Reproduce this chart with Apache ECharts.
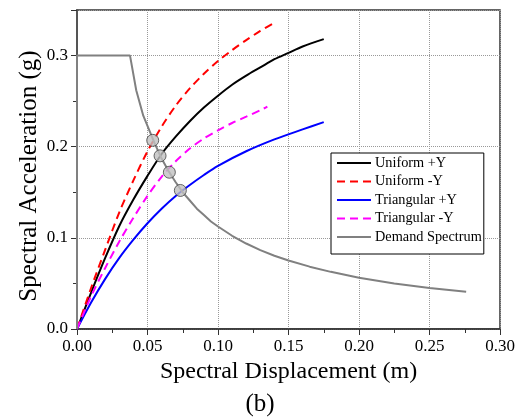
<!DOCTYPE html>
<html>
<head>
<meta charset="utf-8">
<script src="https://cdn.jsdelivr.net/npm/echarts@6/dist/echarts.min.js"></script>
<style>
  html, body { margin: 0; padding: 0; background: #fff; }
  #chart { width: 520px; height: 418px; }
</style>
</head>
<body>
<div id="chart"></div>
<script>
// capacity curves [Sd (m), Sa (g)]
const uniformPos = [[0,0],[0.01,0.040],[0.02,0.078],[0.03,0.113],[0.04,0.142],[0.05,0.168],[0.06,0.192],
  [0.07,0.211],[0.08,0.228],[0.09,0.243],[0.10,0.256],[0.11,0.268],[0.12,0.278],[0.13,0.287],
  [0.14,0.296],[0.15,0.303],[0.16,0.310],[0.175,0.318]];
const uniformNeg = [[0,0],[0.01,0.045],[0.02,0.087],[0.03,0.128],[0.04,0.163],[0.05,0.195],[0.06,0.222],
  [0.07,0.245],[0.08,0.264],[0.09,0.280],[0.10,0.294],[0.11,0.306],[0.12,0.317],[0.13,0.327],[0.14,0.336]];
const triangPos = [[0,0],[0.01,0.029],[0.02,0.055],[0.03,0.078],[0.04,0.098],[0.05,0.116],[0.06,0.132],
  [0.07,0.146],[0.08,0.158],[0.09,0.169],[0.10,0.179],[0.12,0.195],[0.14,0.208],[0.16,0.219],[0.175,0.227]];
const triangNeg = [[0,0],[0.01,0.036],[0.02,0.067],[0.03,0.096],[0.04,0.122],[0.05,0.146],[0.06,0.167],
  [0.07,0.184],[0.08,0.198],[0.09,0.209],[0.10,0.218],[0.11,0.226],[0.12,0.233],[0.13,0.240],[0.135,0.244]];
const demand = [[0,0],[0,0.3],[0.0376,0.3],[0.042,0.262],[0.047,0.234],[0.051,0.219],[0.055,0.204],
  [0.06,0.187],[0.065,0.173],[0.07,0.161],[0.075,0.150],[0.08,0.141],[0.085,0.132],[0.09,0.125],
  [0.095,0.118],[0.10,0.1125],[0.11,0.1023],[0.12,0.0938],[0.13,0.0866],[0.14,0.0804],[0.15,0.0752],
  [0.165,0.0684],[0.18,0.0627],[0.20,0.0563],[0.225,0.0500],[0.25,0.0450],[0.276,0.0408]];
// performance points
const perfPoints = [[0.0537,0.207],[0.0589,0.190],[0.0655,0.172],[0.0733,0.152]];

const names = ['Uniform +Y', 'Uniform -Y', 'Triangular +Y', 'Triangular -Y', 'Demand Spectrum'];
const FONT = '"Liberation Serif", "Times New Roman", serif';

const chart = echarts.init(document.getElementById('chart'));

function curve(name, data, color, dashed) {
  return {
    name: name, type: 'line', data: data, symbol: 'none', smooth: 0.3,
    lineStyle: { color: color, width: 2, type: dashed ? [8, 5] : 'solid' },
    itemStyle: { color: color }
  };
}

chart.setOption({
  animation: false,
  title: {
    text: '(b)', left: 'center', top: 387,
    textStyle: { fontFamily: FONT, fontSize: 25, fontWeight: 'normal', color: '#000' }
  },
  graphic: [{
    type: 'text', x: 29, y: 176, rotation: Math.PI / 2,
    style: { text: 'Spectral Acceleration (g)', fontFamily: FONT, fontSize: 25, fill: '#000',
      align: 'center', verticalAlign: 'middle' }
  }],
  grid: { left: 77, right: 20, top: 10, bottom: 89, show: true, borderColor: '#333', borderWidth: 1.5 },
  legend: {
    data: names,
    orient: 'vertical',
    left: 331, top: 153,
    padding: [3, 2, 10, 5],
    itemWidth: 34, itemHeight: 14, itemGap: 4.5,
    itemStyle: { opacity: 0 },
    backgroundColor: '#fff',
    borderColor: '#000', borderWidth: 1, borderRadius: 0,
    textStyle: { fontFamily: FONT, fontSize: 14.3, color: '#000', padding: [0, 0, 0, -1] }
  },
  xAxis: {
    type: 'value', min: 0, max: 0.3, interval: 0.05,
    name: 'Spectral Displacement (m)', nameLocation: 'middle', nameGap: 16,
    nameTextStyle: { fontFamily: FONT, fontSize: 24, color: '#000', verticalAlign: 'top' },
    axisLine: { lineStyle: { color: '#333', width: 1.5 } },
    axisTick: { show: true, length: 6, lineStyle: { color: '#333' } },
    minorTick: { show: true, splitNumber: 2, length: 4, lineStyle: { color: '#333' } },
    axisLabel: { fontFamily: FONT, fontSize: 17, color: '#000', margin: 9,
      formatter: v => v.toFixed(2) },
    splitLine: { show: true, lineStyle: { color: '#999', type: 'dotted', width: 1 } }
  },
  yAxis: {
    type: 'value', min: 0, max: 0.35, interval: 0.1,
    axisLine: { show: true, lineStyle: { color: '#555', width: 2 } },
    axisTick: { show: true, length: 6, lineStyle: { color: '#333' } },
    minorTick: { show: true, splitNumber: 2, length: 4, lineStyle: { color: '#333' } },
    axisLabel: { fontFamily: FONT, fontSize: 17, color: '#000', margin: 9, showMaxLabel: false,
      formatter: v => v.toFixed(1) },
    splitLine: { show: true, lineStyle: { color: '#999', type: 'dotted', width: 1 } }
  },
  series: [
    curve(names[0], uniformPos, '#000000', false),
    curve(names[1], uniformNeg, '#ff0000', true),
    curve(names[2], triangPos, '#0000ff', false),
    curve(names[3], triangNeg, '#ff00ff', true),
    {
      name: names[4], type: 'line', data: demand, symbol: 'none',
      lineStyle: { color: '#808080', width: 2 }, itemStyle: { color: '#808080' }
    },
    {
      name: 'points', type: 'scatter', data: perfPoints, symbolSize: 12, z: 5,
      itemStyle: { color: '#c0c0c0', borderColor: '#444', borderWidth: 1 }
    }
  ]
});
</script>
</body>
</html>
